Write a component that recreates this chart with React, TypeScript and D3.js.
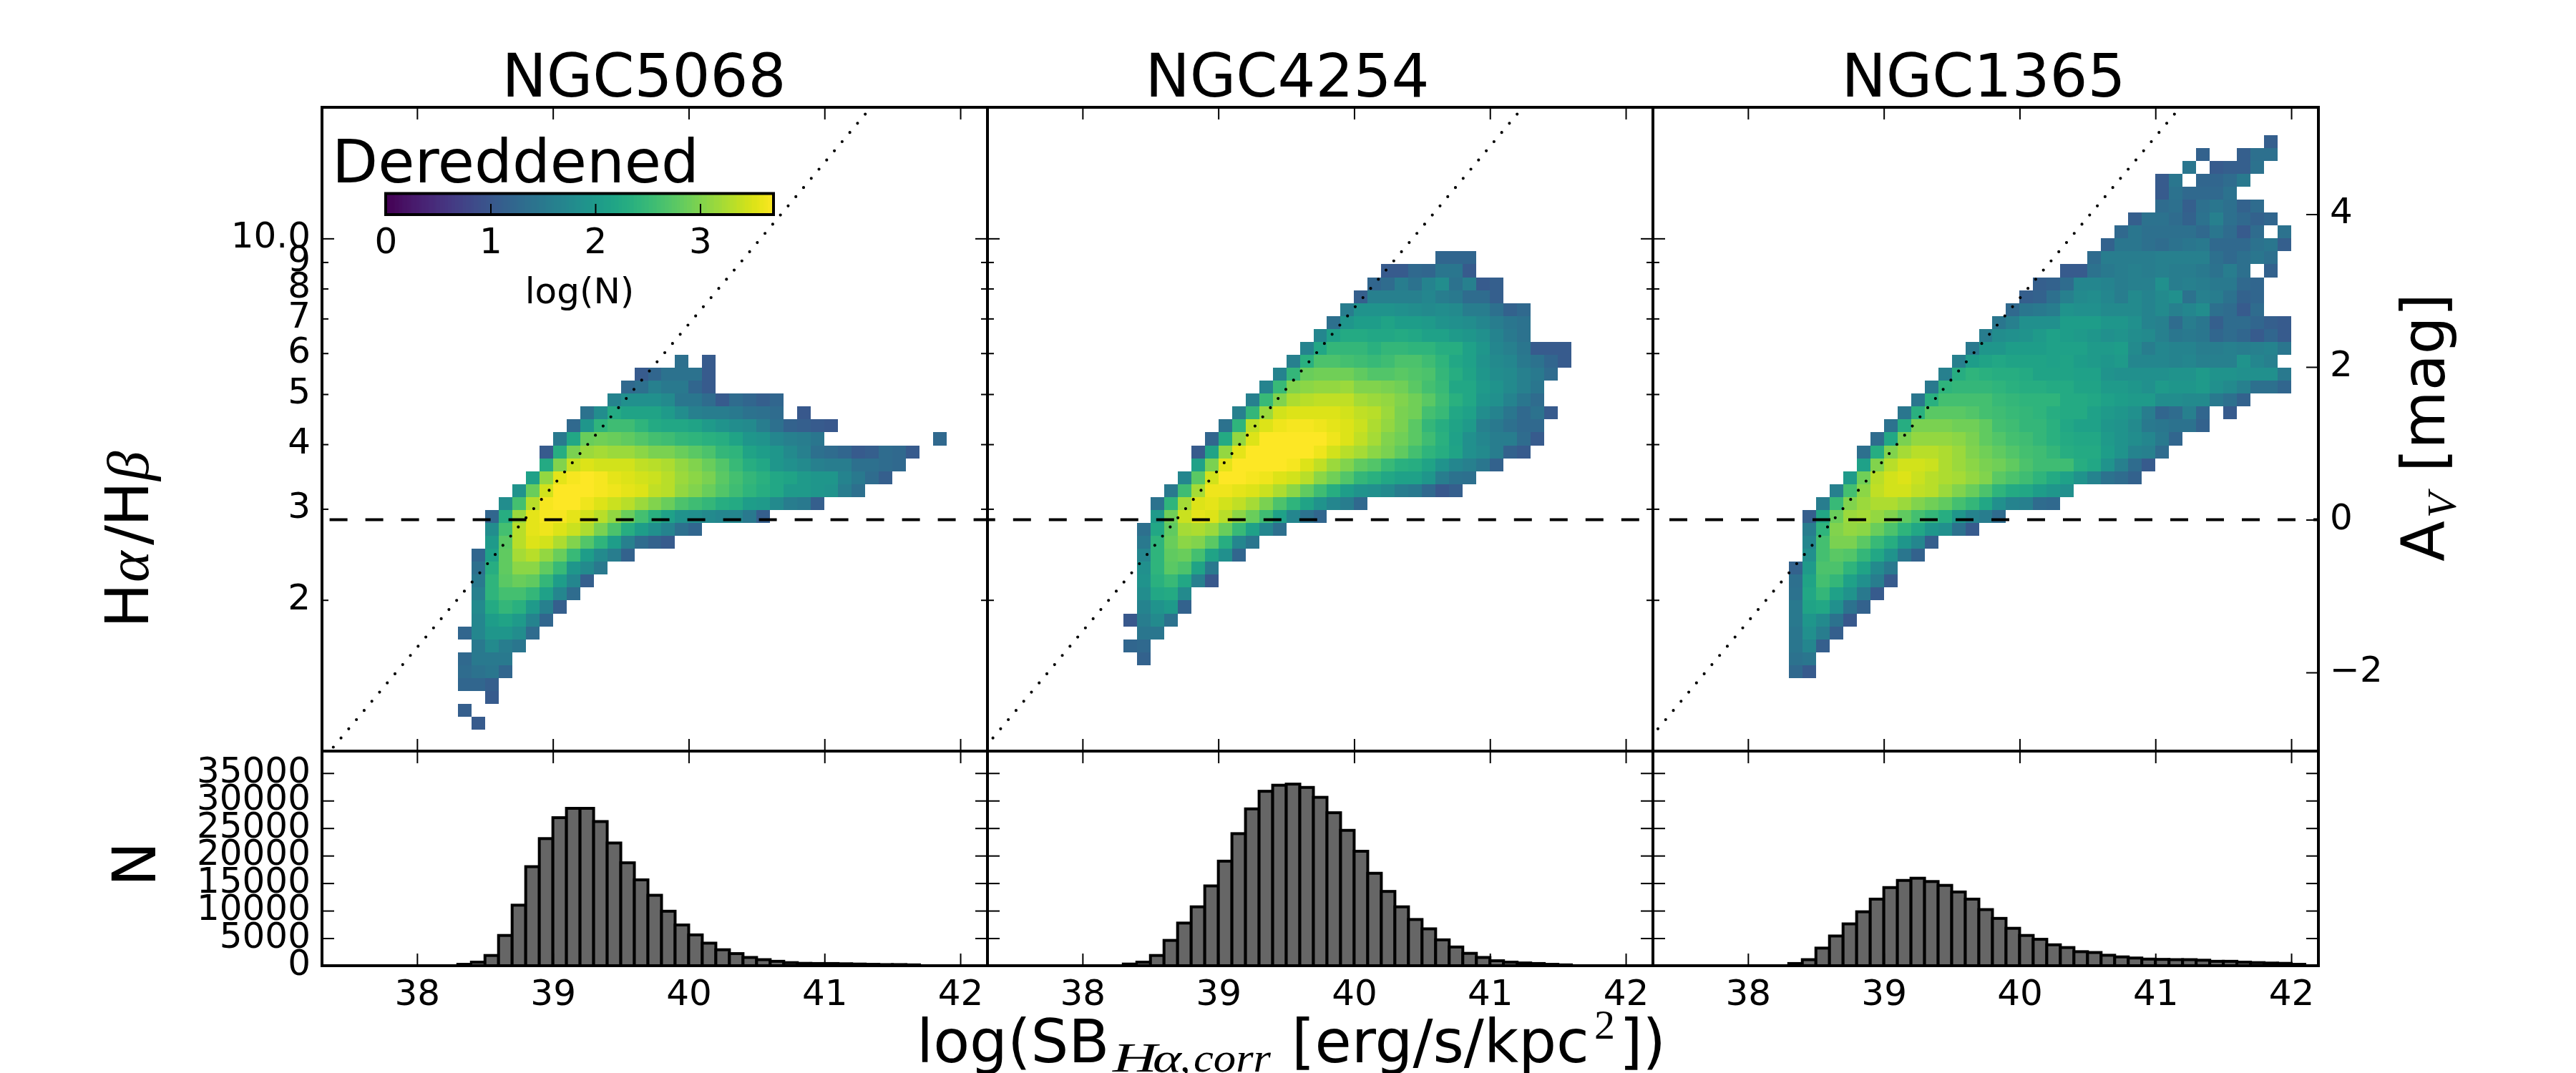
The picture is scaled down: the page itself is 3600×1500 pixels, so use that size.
import React, { useEffect, useRef } from 'react';
import * as d3 from 'd3';

// each row: [row index (log ratio / 0.025), first column (SB bin from 38.0, step 0.1), log(N) values]
type HeatRow = [number, number, number[]];

const galaxies = ['NGC5068', 'NGC4254', 'NGC1365'];

const heat5068: HeatRow[] = [
  [2, 4, [1.05]],
  [3, 3, [1.1]],
  [4, 5, [1.05]],
  [5, 3, [1.2, 1.2, 1.1]],
  [6, 3, [1.3, 1.4, 1.45, 1.2]],
  [7, 3, [1.25, 1.5, 1.5, 1.5]],
  [8, 4, [1.5, 1.75, 1.55, 1.45]],
  [9, 3, [1.2, 1.7, 1.95, 1.95, 1.8, 1.3]],
  [10, 4, [1.7, 2.05, 2.15, 2.0, 1.65, 1.2]],
  [11, 4, [1.75, 2.25, 2.45, 2.35, 2.0, 1.6, 1.1]],
  [12, 4, [1.6, 2.4, 2.6, 2.6, 2.45, 2.1, 1.7, 1.3]],
  [13, 4, [1.5, 2.4, 2.75, 2.85, 2.8, 2.45, 2.05, 1.7, 1.1]],
  [14, 4, [1.35, 2.3, 2.8, 3.05, 3.05, 2.8, 2.5, 1.95, 1.75, 1.5]],
  [15, 4, [1.2, 2.1, 2.8, 3.2, 3.3, 3.1, 2.85, 2.5, 2.05, 1.75, 1.55, 1.15]],
  [16, 5, [2.0, 2.75, 3.3, 3.5, 3.45, 3.25, 3.0, 2.7, 2.4, 2.05, 1.6, 1.3, 1.15, 1.05]],
  [17, 5, [1.8, 2.6, 3.3, 3.55, 3.6, 3.5, 3.4, 3.25, 2.95, 2.65, 2.3, 2.05, 1.85, 1.65, 1.35, 1.2]],
  [18, 5, [1.2, 2.3, 3.15, 3.55, 3.65, 3.65, 3.55, 3.45, 3.3, 3.1, 2.85, 2.6, 2.35, 2.1, 1.9, 1.85, 1.75, 1.7, 1.7, 1.5, 1.1]],
  [19, 6, [1.8, 2.6, 3.3, 3.65, 3.7, 3.7, 3.6, 3.5, 3.4, 3.3, 3.15, 3.0, 2.85, 2.65, 2.55, 2.45, 2.3, 2.25, 2.05, 2.0, 1.75, 1.55, 1.5, 1.1]],
  [20, 7, [1.9, 2.85, 3.45, 3.7, 3.7, 3.7, 3.65, 3.6, 3.55, 3.5, 3.35, 3.3, 3.1, 3.0, 2.85, 2.7, 2.55, 2.4, 2.3, 2.2, 2.0, 2.0, 1.95, 1.9, 1.55, 1.35]],
  [21, 8, [2.1, 3.1, 3.55, 3.65, 3.7, 3.65, 3.55, 3.5, 3.45, 3.4, 3.3, 3.15, 3.05, 2.95, 2.75, 2.6, 2.45, 2.35, 2.2, 2.15, 2.0, 1.95, 1.95, 1.65, 1.5, 1.3, 1.1]],
  [22, 9, [2.25, 3.0, 3.4, 3.5, 3.45, 3.45, 3.45, 3.35, 3.3, 3.25, 3.1, 3.0, 2.85, 2.7, 2.5, 2.3, 2.2, 1.95, 1.85, 1.75, 1.6, 1.55, 1.55, 1.35, 1.35, 1.3, 1.25]],
  [23, 9, [1.05, 2.3, 2.95, 3.15, 3.2, 3.15, 3.15, 3.05, 2.95, 2.95, 2.85, 2.75, 2.65, 2.45, 2.4, 2.15, 2.05, 1.95, 1.75, 1.6, 1.35, 1.3, 1.2, 1.05, 1.1, 1.3, 1.25, 1.05]],
  [24, 10, [1.5, 2.2, 2.85, 2.9, 2.85, 2.8, 2.7, 2.6, 2.55, 2.45, 2.4, 2.35, 2.3, 2.15, 1.95, 1.9, 1.7, 1.6, 1.55, 1.45, 0, 0, 0, 0, 0, 0, 0, 0, 1.25]],
  [25, 11, [1.25, 1.95, 2.4, 2.55, 2.55, 2.4, 2.25, 2.2, 2.2, 2.15, 2.0, 1.9, 1.8, 1.75, 1.55, 1.35, 1.15, 1.1, 1.05, 1.0]],
  [26, 12, [1.4, 1.8, 2.25, 2.15, 2.15, 2.15, 2.0, 1.8, 1.6, 1.55, 1.55, 1.5, 1.4, 1.35, 1.3, 0, 1.0]],
  [27, 14, [1.65, 1.85, 1.85, 1.85, 1.75, 1.45, 1.45, 1.3, 1.05, 1.3, 1.2, 1.1, 1.2]],
  [28, 15, [1.25, 1.35, 1.6, 1.5, 1.5, 1.2, 1.05]],
  [29, 16, [1.05, 1.2, 1.4, 1.4, 1.4, 1.05]],
  [30, 19, [1.35, 0, 1.05]],
];

const heat4254: HeatRow[] = [
  [7, 4, [1.15]],
  [8, 3, [1.2, 1.25]],
  [9, 4, [1.45, 1.45]],
  [10, 3, [1.0, 1.55, 1.75, 1.4]],
  [11, 4, [1.65, 1.9, 2.0, 1.15]],
  [12, 4, [1.8, 2.2, 2.25, 1.75]],
  [13, 4, [1.9, 2.35, 2.5, 2.2, 1.6, 1.0]],
  [14, 4, [1.85, 2.4, 2.75, 2.65, 2.15, 1.5]],
  [15, 4, [1.7, 2.4, 2.8, 2.85, 2.6, 2.15, 1.85, 1.2]],
  [16, 4, [1.5, 2.4, 2.85, 3.05, 3.0, 2.75, 2.3, 1.7, 1.45]],
  [17, 4, [1.35, 2.2, 2.8, 3.2, 3.25, 3.15, 2.85, 2.5, 2.1, 1.7, 1.35]],
  [18, 5, [2.0, 2.9, 3.4, 3.55, 3.5, 3.3, 3.05, 2.85, 2.55, 2.1, 1.7, 1.4, 1.2]],
  [19, 5, [1.4, 2.4, 3.2, 3.5, 3.55, 3.45, 3.35, 3.2, 2.95, 2.65, 2.4, 2.15, 1.9, 1.7, 1.55, 1.25]],
  [20, 6, [1.5, 2.55, 3.2, 3.6, 3.6, 3.55, 3.5, 3.4, 3.25, 3.05, 2.8, 2.55, 2.3, 2.05, 1.9, 1.85, 1.75, 1.55, 1.5, 1.25, 1.0, 1.1]],
  [21, 7, [1.7, 2.75, 3.45, 3.7, 3.7, 3.65, 3.6, 3.5, 3.45, 3.3, 3.05, 2.9, 2.7, 2.45, 2.35, 2.2, 2.1, 2.1, 1.95, 1.55, 1.4, 1.35]],
  [22, 8, [2.1, 2.95, 3.55, 3.7, 3.7, 3.7, 3.7, 3.65, 3.5, 3.35, 3.15, 3.0, 2.8, 2.7, 2.5, 2.35, 2.3, 2.15, 1.9, 1.7, 1.6, 1.45, 1.15]],
  [23, 8, [1.05, 2.15, 3.1, 3.55, 3.7, 3.7, 3.7, 3.7, 3.7, 3.6, 3.45, 3.3, 3.2, 3.05, 2.95, 2.8, 2.6, 2.4, 2.3, 2.15, 1.85, 1.75, 1.55, 1.15, 1.05]],
  [24, 9, [1.2, 2.25, 3.1, 3.5, 3.7, 3.7, 3.7, 3.7, 3.7, 3.6, 3.5, 3.35, 3.2, 3.0, 2.9, 2.75, 2.55, 2.35, 2.1, 1.85, 1.7, 1.55, 1.55, 1.3, 1.05]],
  [25, 10, [1.4, 2.4, 3.35, 3.5, 3.6, 3.65, 3.65, 3.6, 3.55, 3.5, 3.4, 3.25, 3.1, 2.95, 2.75, 2.45, 2.3, 2.15, 2.0, 1.6, 1.5, 1.35, 1.25, 1.25]],
  [26, 11, [1.6, 2.45, 3.15, 3.45, 3.5, 3.5, 3.5, 3.5, 3.45, 3.35, 3.3, 3.15, 2.95, 2.9, 2.6, 2.5, 2.2, 2.1, 1.8, 1.65, 1.45, 1.25, 1.4, 1.05]],
  [27, 12, [1.6, 2.5, 3.0, 3.25, 3.3, 3.35, 3.35, 3.35, 3.2, 3.15, 3.1, 3.0, 2.9, 2.75, 2.55, 2.35, 2.2, 1.95, 1.85, 1.65, 1.45, 1.3]],
  [28, 13, [1.65, 2.5, 3.0, 3.05, 3.1, 3.1, 3.15, 3.0, 3.0, 2.95, 2.9, 2.75, 2.6, 2.5, 2.2, 2.2, 2.0, 1.9, 1.75, 1.6, 1.45]],
  [29, 14, [1.65, 2.45, 2.85, 2.9, 2.9, 2.9, 2.8, 2.7, 2.7, 2.75, 2.7, 2.65, 2.45, 2.3, 2.15, 1.95, 1.8, 1.75, 1.6, 1.5, 1.3]],
  [30, 15, [1.6, 2.35, 2.65, 2.65, 2.6, 2.55, 2.5, 2.55, 2.65, 2.65, 2.55, 2.4, 2.2, 2.1, 1.9, 1.75, 1.7, 1.5, 1.4, 1.2, 1.05]],
  [31, 16, [1.65, 2.2, 2.45, 2.45, 2.45, 2.35, 2.45, 2.45, 2.4, 2.4, 2.3, 2.3, 2.1, 1.95, 1.7, 1.6, 1.45, 1.05, 1.05, 1.05]],
  [32, 17, [1.7, 2.1, 2.25, 2.25, 2.2, 2.2, 2.25, 2.2, 2.1, 2.1, 2.0, 1.95, 1.85, 1.65, 1.5, 1.4]],
  [33, 18, [1.35, 1.95, 2.05, 2.05, 2.15, 2.05, 2.05, 2.0, 1.9, 1.85, 1.8, 1.7, 1.55, 1.45, 1.4]],
  [34, 19, [1.55, 1.9, 1.9, 1.9, 1.85, 1.8, 1.75, 1.8, 1.75, 1.55, 1.55, 1.35, 1.15, 1.25]],
  [35, 20, [1.1, 1.6, 1.6, 1.6, 1.6, 1.7, 1.55, 1.5, 1.3, 1.3, 1.1]],
  [36, 21, [1.2, 1.3, 1.55, 1.4, 1.65, 1.8, 1.4, 1.6, 1.05, 1.1]],
  [37, 22, [1.05, 1.05, 1.25, 1.2, 1.45, 1.45, 1.05]],
  [38, 26, [1.2, 1.2, 1.2]],
];

const heat1365: HeatRow[] = [
  [6, 3, [1.25, 1.05]],
  [7, 3, [1.4, 1.45]],
  [8, 3, [1.45, 1.7, 1.1]],
  [9, 3, [1.45, 1.85, 1.55, 1.1]],
  [10, 3, [1.5, 1.95, 1.75, 1.4, 1.0]],
  [11, 3, [1.5, 2.15, 2.2, 1.85, 1.4, 1.15]],
  [12, 3, [1.4, 2.2, 2.45, 2.1, 1.9, 1.5, 1.05]],
  [13, 3, [1.35, 2.15, 2.6, 2.45, 2.1, 1.85, 1.55, 1.05]],
  [14, 3, [1.15, 2.0, 2.65, 2.65, 2.4, 2.15, 1.75, 1.5]],
  [15, 4, [1.85, 2.6, 2.75, 2.7, 2.45, 2.2, 1.9, 1.45, 1.15]],
  [16, 4, [1.7, 2.6, 2.95, 2.95, 2.75, 2.5, 2.3, 1.95, 1.7, 1.1]],
  [17, 4, [1.55, 2.4, 3.0, 3.1, 3.05, 2.85, 2.65, 2.4, 2.2, 1.95, 1.85, 1.4, 1.05]],
  [18, 4, [1.1, 2.2, 2.85, 3.15, 3.2, 3.1, 3.0, 2.8, 2.6, 2.45, 2.3, 1.95, 1.65, 1.55, 1.3]],
  [19, 5, [1.55, 2.5, 3.0, 3.15, 3.25, 3.25, 3.15, 3.0, 2.9, 2.8, 2.6, 2.45, 2.2, 1.85, 1.65, 1.6, 1.3, 1.25]],
  [20, 6, [1.6, 2.6, 3.05, 3.35, 3.45, 3.45, 3.35, 3.3, 3.15, 3.0, 2.85, 2.65, 2.4, 2.25, 2.2, 2.05, 1.95, 1.85]],
  [21, 7, [2.0, 2.9, 3.3, 3.45, 3.5, 3.4, 3.3, 3.25, 3.2, 3.1, 3.0, 2.75, 2.65, 2.55, 2.4, 2.25, 2.1, 1.9, 1.65, 1.4, 1.3, 1.15]],
  [22, 8, [2.1, 3.0, 3.3, 3.45, 3.45, 3.4, 3.25, 3.15, 3.05, 2.95, 2.9, 2.8, 2.65, 2.55, 2.55, 2.55, 2.3, 2.2, 1.9, 1.6, 1.3, 1.05]],
  [23, 8, [1.35, 2.3, 3.0, 3.2, 3.3, 3.3, 3.25, 3.15, 3.0, 2.9, 2.8, 2.7, 2.6, 2.55, 2.45, 2.3, 2.25, 2.25, 2.05, 1.9, 1.65, 1.6, 1.3]],
  [24, 9, [1.3, 2.2, 2.95, 3.1, 3.1, 3.1, 3.05, 2.95, 2.8, 2.7, 2.6, 2.55, 2.45, 2.35, 2.25, 2.2, 2.2, 2.0, 1.9, 1.8, 1.7, 1.5, 1.2]],
  [25, 10, [1.4, 2.3, 2.95, 2.95, 2.95, 2.9, 2.9, 2.8, 2.6, 2.55, 2.45, 2.45, 2.35, 2.2, 2.1, 2.1, 1.95, 1.9, 1.75, 1.5, 1.45, 1.4, 1.4, 1.15]],
  [26, 11, [1.45, 2.35, 2.75, 2.75, 2.75, 2.7, 2.6, 2.55, 2.5, 2.45, 2.4, 2.3, 2.25, 2.25, 2.1, 2.0, 1.95, 1.85, 1.55, 1.2, 1.3, 1.6, 1.2, 0, 1.05]],
  [27, 12, [1.45, 2.35, 2.6, 2.6, 2.6, 2.6, 2.5, 2.45, 2.4, 2.4, 2.4, 2.25, 2.25, 2.2, 2.1, 2.05, 2.0, 2.0, 1.8, 1.8, 1.75, 1.75, 1.5, 1.35, 1.15]],
  [28, 13, [1.5, 2.4, 2.45, 2.45, 2.45, 2.4, 2.35, 2.3, 2.3, 2.25, 2.25, 2.15, 2.15, 2.0, 2.0, 1.95, 1.85, 2.0, 1.95, 1.95, 2.0, 1.85, 1.75, 1.6, 1.35, 1.35, 1.2]],
  [29, 14, [1.6, 2.3, 2.4, 2.35, 2.3, 2.3, 2.25, 2.15, 2.15, 2.15, 2.1, 2.1, 1.9, 1.85, 1.85, 1.85, 1.85, 1.9, 1.9, 2.0, 1.9, 1.9, 1.85, 1.85, 1.85, 1.5]],
  [30, 15, [1.6, 2.05, 2.15, 2.2, 2.15, 2.15, 2.15, 2.1, 2.15, 2.05, 2.0, 1.95, 2.0, 1.7, 1.7, 1.7, 1.65, 1.7, 1.6, 1.6, 1.6, 1.9, 1.7, 1.6]],
  [31, 16, [1.5, 1.95, 1.95, 2.05, 2.05, 2.05, 2.1, 2.1, 2.1, 2.0, 2.0, 2.05, 1.75, 1.55, 1.7, 1.65, 1.65, 1.55, 1.55, 1.6, 1.55, 1.6, 1.65, 1.45]],
  [32, 17, [1.55, 1.8, 1.85, 1.9, 2.0, 2.1, 2.05, 2.0, 1.95, 1.85, 1.9, 1.8, 1.75, 1.6, 1.45, 1.5, 1.45, 1.2, 1.3, 1.2, 1.05, 1.2, 1.05]],
  [33, 18, [1.45, 1.6, 1.85, 1.85, 1.85, 2.05, 2.05, 2.05, 1.95, 1.95, 1.85, 1.65, 1.6, 1.3, 1.55, 1.45, 1.1, 1.3, 1.3, 1.2, 1.1, 1.05]],
  [34, 19, [1.25, 1.45, 1.5, 1.55, 1.9, 1.85, 1.85, 1.75, 1.75, 1.75, 1.65, 1.75, 1.6, 1.7, 1.8, 1.35, 1.3, 1.05, 1.3]],
  [35, 20, [1.1, 1.15, 1.35, 1.6, 1.75, 1.8, 1.7, 1.55, 1.75, 1.65, 1.75, 1.85, 1.4, 1.6, 1.55, 1.4, 1.15, 1.2]],
  [36, 21, [1.1, 1.15, 1.3, 1.7, 1.7, 1.65, 1.55, 1.6, 1.6, 1.85, 1.55, 1.6, 1.55, 1.5, 1.5, 1.25, 1.2]],
  [37, 23, [1.05, 1.05, 1.4, 1.5, 1.55, 1.6, 1.55, 1.6, 1.55, 1.55, 1.5, 1.4, 1.55, 1.35, 0, 1.15]],
  [38, 25, [1.3, 1.55, 1.55, 1.55, 1.55, 1.6, 1.6, 1.6, 1.6, 1.35, 1.25, 1.35, 1.45, 1.35]],
  [39, 26, [1.15, 1.45, 1.45, 1.35, 1.3, 1.4, 1.45, 1.5, 1.25, 1.25, 1.25, 1.4, 1.45, 1.1]],
  [40, 27, [1.25, 1.45, 1.35, 1.35, 1.35, 1.35, 1.25, 1.45, 1.3, 1.05, 1.3, 0, 1.4]],
  [41, 28, [1.1, 1.4, 1.4, 1.3, 1.15, 1.4, 1.6, 1.35, 1.25, 1.15, 1.2]],
  [42, 30, [1.3, 1.35, 1.1, 1.35, 1.45, 1.35, 1.15, 1.3]],
  [43, 30, [1.05, 1.4, 1.25, 1.25, 1.25, 1.4]],
  [44, 30, [1.05, 1.45, 0, 1.2, 1.2, 1.3, 1.5]],
  [45, 32, [1.45, 0, 1.05, 1.1, 1.1, 1.4]],
  [46, 33, [1.15, 0, 0, 1.1, 1.35, 1.35]],
  [47, 38, [1.1]],
];

// histogram counts per 0.1 dex bin, first bin is 38.3
const histStartCol = 3;
const hist5068 = [250, 650, 1860, 5500, 11000, 18000, 23100, 26900, 28600, 28600, 26200, 22300, 18700, 15600, 12800, 9900, 7400, 5600, 4100, 2900, 2200, 1500, 1100, 800, 560, 430, 400, 400, 350, 300, 250, 200, 200, 150];
const hist4254 = [300, 650, 1860, 4600, 7750, 10700, 14500, 19000, 24000, 28500, 31700, 32800, 33000, 32400, 30600, 27800, 24600, 20800, 16800, 13500, 10700, 8400, 6700, 4700, 3400, 2250, 1500, 900, 650, 500, 400, 250, 150];
const hist1365 = [400, 1100, 3200, 5400, 7600, 9800, 12100, 14200, 15500, 15900, 15300, 14600, 13400, 12100, 10200, 8600, 6800, 5500, 4800, 3800, 3300, 2550, 2400, 1900, 1600, 1400, 1200, 1150, 1100, 1100, 1000, 800, 800, 650, 560, 480, 430, 250];

const xTicks = [38, 39, 40, 41, 42];
const ratioTicks = [2, 3, 4, 5, 6, 7, 8, 9, 10];
const avTicks = [-2, 0, 2, 4];
const countTicks = [0, 5000, 10000, 15000, 20000, 25000, 30000, 35000];
const colorTicks = [0, 1, 2, 3];

const caseB = 2.86; // dashed line, A_V = 0
const dottedTopSB = [41.3, 41.2, 41.14]; // where the dotted line reaches log ratio 1.2404
const dottedTopLog = 1.2404;
const dottedSlope = 0.3125;
const dashStart = [10.6, 35.8, 23];

const SANS = '"DejaVu Sans"';
const SERIF = '"Liberation Serif"';

export default function App() {
  const svgRef = useRef<SVGSVGElement>(null);

  useEffect(() => {
    if (!svgRef.current) return;
    const svg = d3.select(svgRef.current);
    svg.selectAll('*').remove();

    const panelW = 930;
    const left = 450;
    const top = 150;
    const mid = 1050;
    const bottom = 1350;
    const tickLen = 17;
    const tickFont = 50;
    const bigFont = 83.3;

    const y = d3.scaleLog().domain([1.0205, 17.93]).range([mid, top]);
    const yAv = d3.scaleLinear().domain([-3.03, 5.4]).range([mid, top]);
    const yN = d3.scaleLinear().domain([0, 39000]).range([bottom, mid]);
    const color = d3.scaleSequential(d3.interpolateViridis).domain([0, 3.7]);

    const label = (
      g: any, x: number, yy: number, s: string, size: number,
      opts: { family?: string; italic?: boolean; anchor?: string; rotate?: boolean; stretch?: number } = {}
    ) => {
      const t = g.append('text')
        .attr('transform', `translate(${x},${yy})${opts.rotate ? ' rotate(-90)' : ''}`)
        .attr('font-family', opts.family || SANS)
        .attr('font-style', opts.italic ? 'italic' : 'normal')
        .attr('font-size', size)
        .attr('text-anchor', opts.anchor || 'start')
        .attr('fill', '#000')
        .text(s);
      if (opts.stretch) t.attr('textLength', opts.stretch).attr('lengthAdjust', 'spacingAndGlyphs');
      return t;
    };

    const styleAxis = (g: any) => {
      g.attr('font-family', SANS).attr('font-size', tickFont).attr('color', '#000');
      g.select('.domain').remove();
      g.selectAll('.tick line').attr('stroke-width', 2);
    };
    // vertical axes: digits sit a little above their tick in the reference
    const styleSideAxis = (g: any) => {
      styleAxis(g);
      g.selectAll('.tick text').attr('dy', '0.25em');
    };

    const heats = [heat5068, heat4254, heat1365];
    const hists = [hist5068, hist4254, hist1365];

    galaxies.forEach((name, i) => {
      const x0 = left + i * panelW;
      const x = d3.scaleLinear().domain([37.3, 42.2]).range([x0, x0 + panelW]);
      const clipId = `clip-${name}`;
      svg.append('clipPath').attr('id', clipId).append('rect')
        .attr('x', x0).attr('y', top).attr('width', panelW).attr('height', mid - top);

      // 2D histogram
      const cells = svg.append('g').attr('shape-rendering', 'crispEdges');
      heats[i].forEach(([row, c0, vals]) => {
        vals.forEach((v, k) => {
          if (!v) return;
          const sb = 38 + (c0 + k) * 0.1;
          const yt = y(Math.pow(10, (row + 1) * 0.025));
          const yb = y(Math.pow(10, row * 0.025));
          cells.append('rect')
            .attr('x', x(sb)).attr('y', yt)
            .attr('width', x(sb + 0.1) - x(sb)).attr('height', yb - yt)
            .attr('fill', color(v));
        });
      });

      // dotted slope line and dashed line for the intrinsic ratio
      const dotted = d3.line<number>()
        .x(d => x(d))
        .y(d => y(Math.pow(10, dottedTopLog + (d - dottedTopSB[i]) * dottedSlope)));
      svg.append('path')
        .attr('d', dotted([dottedTopSB[i], 37.2]))
        .attr('clip-path', `url(#${clipId})`)
        .attr('fill', 'none').attr('stroke', '#000').attr('stroke-width', 4.2)
        .attr('stroke-linecap', 'round').attr('stroke-dasharray', '0 16.75');

      svg.append('line')
        .attr('x1', x0).attr('x2', x0 + panelW)
        .attr('y1', y(caseB)).attr('y2', y(caseB))
        .attr('stroke', '#000').attr('stroke-width', 4)
        .attr('stroke-dasharray', '25 25')
        .attr('stroke-dashoffset', -dashStart[i]);

      // histogram below
      const bars = svg.append('g');
      hists[i].forEach((n, k) => {
        const sb = 38 + (histStartCol + k) * 0.1;
        bars.append('rect')
          .attr('x', x(sb)).attr('y', yN(n))
          .attr('width', x(sb + 0.1) - x(sb)).attr('height', bottom - yN(n))
          .attr('fill', '#666').attr('stroke', '#000').attr('stroke-width', 4);
      });

      // x ticks, both panels, top and bottom
      const noLabel = () => '';
      svg.append('g').attr('transform', `translate(0,${top})`)
        .call(d3.axisTop(x).tickValues(xTicks).tickSize(-tickLen).tickFormat(noLabel as any)).call(styleAxis);
      svg.append('g').attr('transform', `translate(0,${mid})`)
        .call(d3.axisBottom(x).tickValues(xTicks).tickSize(-tickLen).tickFormat(noLabel as any)).call(styleAxis);
      svg.append('g').attr('transform', `translate(0,${mid})`)
        .call(d3.axisTop(x).tickValues(xTicks).tickSize(-tickLen).tickFormat(noLabel as any)).call(styleAxis);
      svg.append('g').attr('transform', `translate(0,${bottom})`)
        .call(d3.axisBottom(x).tickValues(xTicks).tickSize(-tickLen).tickPadding(19.5).tickFormat(d3.format('d') as any))
        .call(styleAxis);

      // ratio axis on the left of every panel, on the right of the first two
      const ratioAxis = svg.append('g').attr('transform', `translate(${x0},0)`)
        .call(d3.axisLeft(y).tickValues(ratioTicks).tickSize(-tickLen).tickPadding(16)
          .tickFormat((d: any) => (i > 0 ? '' : d === 10 ? '10.0' : String(d))))
        .call(styleSideAxis);
      ratioAxis.selectAll<SVGLineElement, number>('.tick line').attr('x2', d => (d === 10 ? tickLen : 9));
      if (i < 2) {
        const rightAxis = svg.append('g').attr('transform', `translate(${x0 + panelW},0)`)
          .call(d3.axisRight(y).tickValues(ratioTicks).tickSize(-tickLen).tickFormat(noLabel as any))
          .call(styleSideAxis);
        rightAxis.selectAll<SVGLineElement, number>('.tick line').attr('x2', d => (d === 10 ? -tickLen : -9));
      } else {
        svg.append('g').attr('transform', `translate(${x0 + panelW},0)`)
          .call(d3.axisRight(yAv).tickValues(avTicks).tickSize(-tickLen).tickPadding(16).tickFormat(d3.format('d') as any))
          .call(styleSideAxis);
      }

      // count axis
      svg.append('g').attr('transform', `translate(${x0},0)`)
        .call(d3.axisLeft(yN).tickValues(countTicks).tickSize(-tickLen).tickPadding(16)
          .tickFormat((d: any) => (i > 0 ? '' : String(d))))
        .call(styleSideAxis);
      svg.append('g').attr('transform', `translate(${x0 + panelW},0)`)
        .call(d3.axisRight(yN).tickValues(countTicks).tickSize(-tickLen).tickFormat(noLabel as any))
        .call(styleSideAxis);

      // frames
      [[top, mid], [mid, bottom]].forEach(([a, b]) => {
        svg.append('rect').attr('x', x0).attr('y', a).attr('width', panelW).attr('height', b - a)
          .attr('fill', 'none').attr('stroke', '#000').attr('stroke-width', 4);
      });
    });

    // titles
    const titleX = [900, 1799, 2772];
    galaxies.forEach((name, i) => label(svg, titleX[i], 135, name, bigFont, { anchor: 'middle' }));

    // colour bar and its title
    label(svg, 464, 254.5, 'Dereddened', bigFont);
    const cbScale = d3.scaleLinear().domain([0, 3.7]).range([539, 1081]);
    const cbCells = svg.append('g').attr('shape-rendering', 'crispEdges');
    d3.range(0, 3.7, 3.7 / 256).forEach(v => {
      cbCells.append('rect')
        .attr('x', cbScale(v)).attr('y', 270.5)
        .attr('width', cbScale(3.7 / 256) - cbScale(0) + 0.6).attr('height', 29.5)
        .attr('fill', color(v));
    });
    svg.append('g').attr('transform', 'translate(0,300)')
      .call(d3.axisBottom(cbScale).tickValues(colorTicks).tickSize(-15).tickPadding(18).tickFormat(d3.format('d') as any))
      .call(styleAxis);
    svg.append('rect').attr('x', 539).attr('y', 270.5).attr('width', 542).attr('height', 29.5)
      .attr('fill', 'none').attr('stroke', '#000').attr('stroke-width', 4);
    label(svg, 810, 423.5, 'log(N)', tickFont, { anchor: 'middle' });

    // y labels
    label(svg, 206.7, 878, 'H', bigFont, { rotate: true });
    label(svg, 206.7, 814, 'α', bigFont, { rotate: true, family: SERIF, italic: true });
    label(svg, 206.7, 762, '/', bigFont, { rotate: true });
    label(svg, 206.7, 736, 'H', bigFont, { rotate: true });
    label(svg, 206.7, 672, 'β', bigFont, { rotate: true, family: SERIF, italic: true });
    label(svg, 217, 1208, 'N', bigFont, { rotate: true, anchor: 'middle' });
    label(svg, 3416, 785, 'A', bigFont, { rotate: true });
    label(svg, 3431.6, 724, 'V', 58, { rotate: true, family: SERIF, italic: true });
    label(svg, 3416, 660, '[mag]', bigFont, { rotate: true });

    // x label
    label(svg, 1281, 1485, 'log(SB', bigFont);
    label(svg, 1555, 1498, 'H', 58, { family: SERIF, italic: true, stretch: 62 });
    label(svg, 1611, 1498, 'α', 58, { family: SERIF, italic: true, stretch: 40 });
    label(svg, 1649, 1498, ',', 58, { family: SERIF, italic: true });
    label(svg, 1668, 1498, 'corr', 58, { family: SERIF, italic: true, stretch: 108 });
    label(svg, 1805, 1485, '[erg/s/kpc', bigFont);
    label(svg, 2228, 1452, '2', 58, { family: SERIF });
    label(svg, 2263, 1485, '])', bigFont);
  }, []);

  return (
    <svg
      ref={svgRef}
      width={3600}
      height={1500}
      style={{ position: 'absolute', left: 0, top: 0, background: '#fff' }}
    />
  );
}
